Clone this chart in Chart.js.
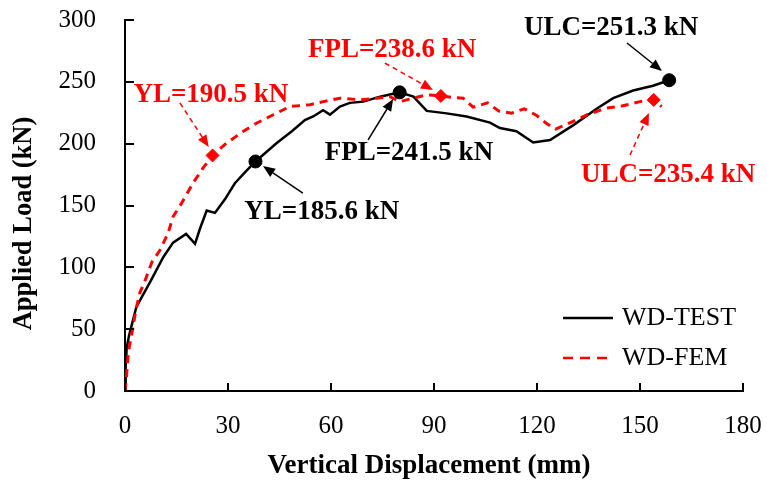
<!DOCTYPE html>
<html><head><meta charset="utf-8">
<script src="https://cdn.jsdelivr.net/npm/chart.js@4/dist/chart.umd.min.js"></script>
<style>html,body{margin:0;padding:0;background:#fff}#wrap{width:767px;height:488px;position:relative}</style>
</head><body><div id="wrap"><canvas id="c" width="767" height="488"></canvas></div>
<script>
// ---- data ----
const seriesNames = ['WD-TEST', 'WD-FEM'];
const testX = [0, 0.2, 0.5, 1.2, 3.3, 7.3, 11.1, 14, 17.8, 20.4, 21.8, 23.8, 26.2, 29.1, 32, 35, 38, 44.2, 48.6, 52.4, 54.8, 57.7, 59.7, 62.6, 65.5, 69.4, 74.3, 80, 84, 87.9, 93.7, 99.5, 106.3, 109.2, 114, 118.9, 123.8, 130.6, 137.8, 142.2, 148, 153.8, 158.5];
const testY = [0, 20, 35, 45, 68, 88, 108, 120, 127, 119, 131, 146, 144, 155, 168, 177, 185.6, 200.5, 210, 219, 222, 227, 223.5, 230, 233, 234, 238, 241.5, 238, 226.5, 224.5, 222, 217, 212.6, 210, 201, 203, 215, 229, 236.8, 243, 246.8, 251.3];
const femX = [0, 0.3, 1, 1.9, 3.2, 4.4, 5.8, 7.8, 10.2, 12.6, 14, 16.5, 19.9, 22.8, 25.5, 29.6, 34.5, 38.4, 43.2, 48, 53.9, 57.7, 62.6, 68.5, 73.3, 77.2, 80.1, 85, 88, 92, 95.6, 98.5, 101.4, 105.6, 108.8, 112.6, 116.3, 119.9, 122.8, 125.4, 129.7, 134.6, 140.3, 145, 150, 154, 156.3];
const femY = [0, 7, 32, 45, 66, 80, 89, 104, 114, 128, 141, 152, 168.5, 180.6, 190.5, 200.5, 210, 216.7, 223.4, 230, 231.5, 234, 236.8, 235.5, 236.8, 238, 234, 237.5, 239.5, 238.6, 237.2, 236.8, 229.5, 233, 226.5, 224.7, 228.2, 222.8, 216.3, 211.8, 217, 223.4, 228.8, 230.6, 234, 235.4, 230];
const testKeyX = [38, 80, 158.5];
const testKeyY = [185.6, 241.5, 251.3];
const femKeyX = [25.5, 92, 154];
const femKeyY = [190.5, 238.6, 235.4];
const xTickValues = [0, 30, 60, 90, 120, 150, 180];
const yTickValues = [0, 50, 100, 150, 200, 250, 300];
const xTitle = 'Vertical Displacement (mm)';
const yTitle = 'Applied Load (kN)';
// annotation texts, anchored in data units
const noteText = ['YL=190.5 kN', 'YL=185.6 kN', 'FPL=241.5 kN', 'FPL=238.6 kN', 'ULC=251.3 kN', 'ULC=235.4 kN'];
const noteSeries = [1, 0, 0, 1, 0, 1];
const noteX = [25.0, 57.3, 82.7, 77.8, 141.6, 158.2];
const noteY = [239.3, 144.7, 192.4, 275.7, 293.5, 174.7];
const arrowFromX = [16.0, 51.8, 70.8, 75.7, 146.2, 147.1];
const arrowFromY = [232.9, 160.1, 203.0, 265.2, 281.4, 190.8];
const arrowToX = [24.4, 40.2, 78.1, 89.7, 156.4, 152.6];
const arrowToY = [197.3, 181.9, 236.1, 243.4, 258.8, 224.8];

// ---- styles ----
const colors = ['#000000', '#ff0000'];
const SERIF = '"Liberation Serif", "Times New Roman", serif';

function pts(xs, ys) { return xs.map((x, i) => ({x: x, y: ys[i]})); }

function drawArrow(ctx, x1, y1, x2, y2, color, dashed) {
  const ang = Math.atan2(y2 - y1, x2 - x1);
  const hl = 12, hw = 5;
  const bx = x2 - hl * Math.cos(ang), by = y2 - hl * Math.sin(ang);
  ctx.save();
  ctx.strokeStyle = color; ctx.fillStyle = color;
  ctx.lineWidth = 1.5;
  ctx.setLineDash(dashed ? [5, 4] : []);
  ctx.beginPath(); ctx.moveTo(x1, y1); ctx.lineTo(bx, by); ctx.stroke();
  ctx.setLineDash([]);
  ctx.beginPath();
  ctx.moveTo(x2, y2);
  ctx.lineTo(bx + hw * Math.sin(ang), by - hw * Math.cos(ang));
  ctx.lineTo(bx - hw * Math.sin(ang), by + hw * Math.cos(ang));
  ctx.closePath(); ctx.fill();
  ctx.restore();
}

const decor = {
  id: 'decor',
  afterDraw(chart) {
    const ctx = chart.ctx, xs = chart.scales.x, ys = chart.scales.y, ca = chart.chartArea;
    ctx.save();
    // inward tick marks
    ctx.strokeStyle = '#000'; ctx.lineWidth = 2;
    xTickValues.forEach(v => {
      const px = Math.round(xs.getPixelForValue(v));
      ctx.beginPath(); ctx.moveTo(px, ca.bottom); ctx.lineTo(px, ca.bottom - 8); ctx.stroke();
    });
    yTickValues.forEach(v => {
      const py = Math.round(ys.getPixelForValue(v));
      ctx.beginPath(); ctx.moveTo(ca.left, py); ctx.lineTo(ca.left + 9, py); ctx.stroke();
    });
    // annotations
    ctx.font = 'bold 27px ' + SERIF;
    ctx.textAlign = 'center'; ctx.textBaseline = 'middle';
    noteText.forEach((t, i) => {
      const c = colors[noteSeries[i]];
      ctx.fillStyle = c;
      ctx.fillText(t, xs.getPixelForValue(noteX[i]), ys.getPixelForValue(noteY[i]));
      drawArrow(ctx, xs.getPixelForValue(arrowFromX[i]), ys.getPixelForValue(arrowFromY[i]),
        xs.getPixelForValue(arrowToX[i]), ys.getPixelForValue(arrowToY[i]), c, noteSeries[i] === 1);
    });
    // axis titles
    ctx.fillStyle = '#000';
    ctx.font = 'bold 27px ' + SERIF;
    ctx.fillText(xTitle, (ca.left + ca.right) / 2 - 5, ca.bottom + 75);
    ctx.font = 'bold 26.5px ' + SERIF;
    ctx.save();
    ctx.translate(24, (ca.top + ca.bottom) / 2 + 18);
    ctx.rotate(-Math.PI / 2);
    ctx.fillText(yTitle, 0, 0);
    ctx.restore();
    // legend
    const lx = ca.right - 180, ly0 = ca.bottom - 73, gap = 40;
    seriesNames.forEach((n, i) => {
      const y = ly0 + i * gap;
      ctx.strokeStyle = colors[i]; ctx.lineWidth = 2.5;
      ctx.setLineDash(i === 1 ? [10, 7] : []);
      ctx.beginPath(); ctx.moveTo(lx, y); ctx.lineTo(lx + 50, y); ctx.stroke();
      ctx.setLineDash([]);
      ctx.fillStyle = '#000';
      ctx.font = '26px ' + SERIF;
      ctx.textAlign = 'left';
      ctx.fillText(n, lx + 59, y);
    });
    ctx.restore();
  }
};

function noPad(s) { s.paddingTop = 0; s.paddingBottom = 0; s.paddingLeft = 0; s.paddingRight = 0; }

new Chart(document.getElementById('c'), {
  type: 'scatter',
  data: {
    datasets: [
      { label: seriesNames[0], data: pts(testX, testY), showLine: true, borderColor: colors[0], borderWidth: 2.5,
        pointRadius: 0, tension: 0, order: 3 },
      { label: seriesNames[1], data: pts(femX, femY), showLine: true, borderColor: colors[1], borderWidth: 3,
        borderDash: [8, 6], pointRadius: 0, tension: 0, order: 2 },
      { label: 'TEST key points', data: pts(testKeyX, testKeyY), showLine: false, pointStyle: 'circle',
        pointRadius: 6.5, backgroundColor: colors[0], borderColor: colors[0], order: 1 },
      { label: 'FEM key points', data: pts(femKeyX, femKeyY), showLine: false, pointStyle: 'rectRot',
        pointRadius: 6.5, backgroundColor: colors[1], borderColor: colors[1], order: 0 }
    ]
  },
  options: {
    responsive: false, animation: false, devicePixelRatio: 1,
    layout: { padding: { left: 0, right: 24, top: 20, bottom: 0 } },
    plugins: { legend: { display: false }, tooltip: { enabled: false } },
    scales: {
      x: {
        type: 'linear', min: 0, max: 180,
        afterBuildTicks: s => { s.ticks = xTickValues.map(v => ({value: v})); },
        afterFit: s => { s.height = 97; noPad(s); },
        grid: { display: false, drawTicks: false },
        border: { display: true, color: '#000', width: 2 },
        ticks: { color: '#000', font: { family: SERIF, size: 25 }, padding: 20, maxRotation: 0 }
      },
      y: {
        type: 'linear', min: 0, max: 300,
        afterBuildTicks: s => { s.ticks = yTickValues.map(v => ({value: v})); },
        afterFit: s => { s.width = 125; noPad(s); },
        grid: { display: false, drawTicks: false },
        border: { display: true, color: '#000', width: 2 },
        ticks: { color: '#000', font: { family: SERIF, size: 25 }, padding: 29 }
      }
    }
  },
  plugins: [decor]
});
</script>
</body></html>
